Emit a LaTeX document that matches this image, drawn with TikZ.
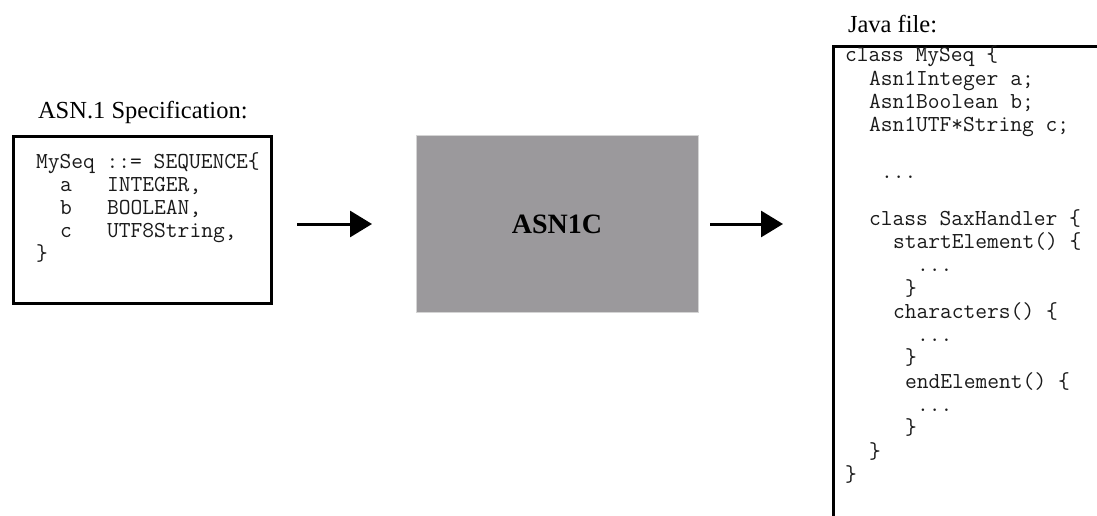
\documentclass[tikz,border=0pt]{standalone}
\usepackage{fontspec}
\setmainfont{Liberation Serif}
\usetikzlibrary{arrows.meta}
\definecolor{boxgray}{HTML}{9B999C}
\definecolor{edgegray}{HTML}{D4D4D4}
\definecolor{codeink}{HTML}{1A1A1A}
\begin{document}
\begin{tikzpicture}[x=1pt,y=-1pt,
  codebox/.style={draw, line width=3pt, outer sep=0pt, inner sep=0pt, anchor=north west},
  code/.style={anchor=base west, inner sep=0pt, outer sep=0pt, text=codeink, font=\ttfamily\fontsize{22.86}{26}\selectfont},
  heading/.style={anchor=base west, inner sep=0pt, outer sep=0pt, font=\fontsize{24.5}{28}\selectfont},
  flow/.style={line width=3pt, -{Triangle[length=22pt,width=26pt]}}]
\useasboundingbox (0,0) rectangle (1097,516);
\clip (0,0) rectangle (1097,516);
% boxes
\node[codebox, minimum width=258pt, minimum height=167pt] (spec) at (13.5,136.5) {};
\node[draw=edgegray, line width=1pt, fill=boxgray, outer sep=0pt, minimum width=282pt, minimum height=176pt,
      font=\bfseries\fontsize{28}{32}\selectfont] (asn) at (557,224) {ASN1C};
\node[codebox, minimum width=300pt, minimum height=500pt] (java) at (833,46.5) {};
% headings
\node[heading] (spectitle) at (38,119) {ASN.1 Specification:};
\node[heading] (javatitle) at (848,33) {Java file:};
% ASN.1 code
\node[code] (s1) at (36,168) {MySeq ::= SEQUENCE\{};
\node[code] (s2) at (60,191) {a\ \ \ INTEGER,};
\node[code] (s3) at (60,214) {b\ \ \ BOOLEAN,};
\node[code] (s4) at (60,237) {c\ \ \ UTF8String,};
\node[code] (s5) at (36,260) {\}};
% Java code
\node[code] (j1)  at (845,62)    {class MySeq \{};
\node[code] (j2)  at (869,85.3)  {Asn1Integer a;};
\node[code] (j3)  at (869,108.6) {Asn1Boolean b;};
\node[code] (j4)  at (869,131.9) {Asn1UTF*String c;};
\node[code] (j5)  at (881,178.5) {...};
\node[code] (j6)  at (869,225.1) {class SaxHandler \{};
\node[code] (j7)  at (893,248.4) {startElement() \{};
\node[code] (j8)  at (917,271.7) {...};
\node[code] (j9)  at (905,295)   {\}};
\node[code] (j10) at (893,318.3) {characters() \{};
\node[code] (j11) at (917,341.6) {...};
\node[code] (j12) at (905,364.9) {\}};
\node[code] (j13) at (905,388.2) {endElement() \{};
\node[code] (j14) at (917,411.5) {...};
\node[code] (j15) at (905,434.8) {\}};
\node[code] (j16) at (869,458.1) {\}};
\node[code] (j17) at (845,481.4) {\}};
% arrows
\draw[flow, shorten <=25.5pt, shorten >=44pt] (spec.east |- asn.west) -- (asn.west);
\draw[flow, shorten <=12pt, shorten >=50pt] (asn.east) -- (asn.east -| java.west);
\end{tikzpicture}
\end{document}
